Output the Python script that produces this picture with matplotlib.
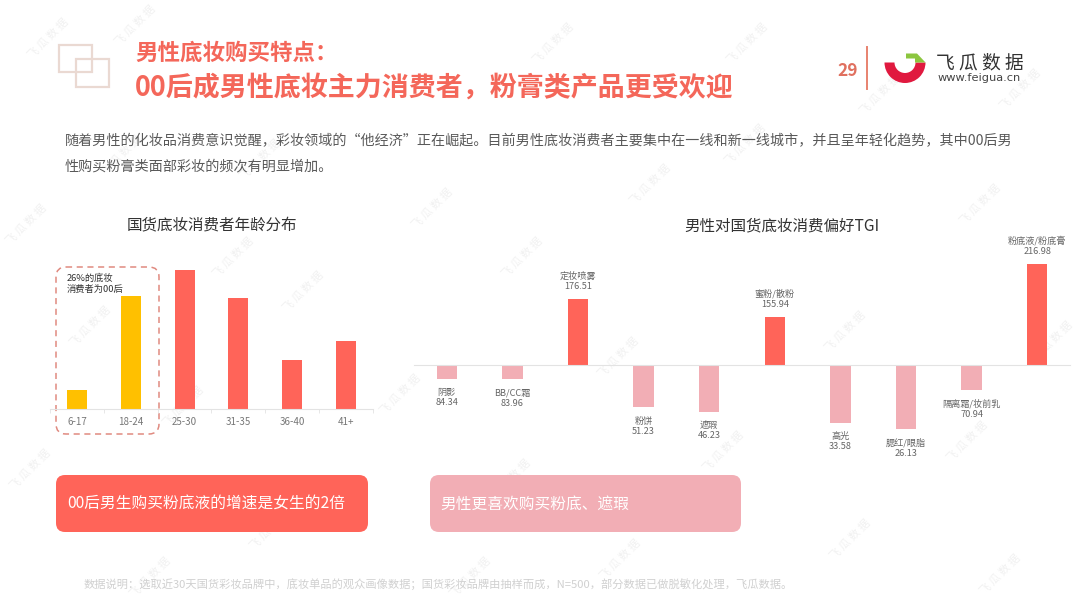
import matplotlib
matplotlib.use("Agg")
import matplotlib.pyplot as plt
from matplotlib.patches import FancyBboxPatch, Rectangle, Wedge, Polygon

plt.rcParams['font.family'] = ['Noto Sans CJK SC', 'DejaVu Sans']

# Data
age_labels = ["6-17", "18-24", "25-30", "31-35", "36-40", "41+"]
age_values = [3.8, 22.6, 27.9, 22.2, 9.8, 13.6]

tgi_labels = ["阴影", "BB/CC霜", "定妆喷雾", "粉饼", "遮瑕", "蜜粉/散粉", "高光", "腮红/眼脂", "隔离霜/妆前乳", "粉底液/粉底膏"]
tgi_values = [84.34, 83.96, 176.51, 51.23, 46.23, 155.94, 33.58, 26.13, 70.94, 216.98]

title_1 = "男性底妆购买特点："
title_2 = "00后成男性底妆主力消费者，粉膏类产品更受欢迎"
body_1 = "随着男性的化妆品消费意识觉醒，彩妆领域的“他经济”正在崛起。目前男性底妆消费者主要集中在一线和新一线城市，并且呈年轻化趋势，其中00后男"
body_2 = "性购买粉膏类面部彩妆的频次有明显增加。"
note = "数据说明：选取近30天国货彩妆品牌中，底妆单品的观众画像数据；国货彩妆品牌由抽样而成，N=500，部分数据已做脱敏化处理，飞瓜数据。"

RED = "#ff6459"
PINK = "#f2aeb5"
YELLOW = "#ffc000"
TITLE_RED = "#f4675a"

W, H = 1080, 607
fig = plt.figure(figsize=(W / 100, H / 100), dpi=100, facecolor="white")


def px_axes(x0, y_top, x1, y_bottom):
    # axes from picture pixels (y down)
    return fig.add_axes([x0 / W, 1 - y_bottom / H, (x1 - x0) / W, (y_bottom - y_top) / H])


# background layer in pixel coordinates
bg = fig.add_axes([0, 0, 1, 1])
bg.set_xlim(0, W)
bg.set_ylim(H, 0)
bg.axis("off")

# watermark
marks = [(48, 39), (135, 26), (260, 160), (121, 156), (233, 258), (26, 225), (90, 327), (303, 292),
         (183, 407), (30, 470), (432, 209), (553, 44), (650, 185), (747, 44), (880, 95), (522, 258),
         (618, 358), (845, 332), (1052, 342), (967, 442), (723, 452), (980, 205), (400, 395), (510, 480),
         (270, 530), (150, 578), (1020, 90), (620, 560), (850, 540), (470, 578), (1000, 575), (745, 145)]
for mx, my in marks:
    bg.text(mx, my, "飞 瓜 数 据", fontsize=8, color="#f1f1f1", rotation=45, ha="center", va="center", zorder=0)

# icon top left
bg.add_patch(Rectangle((59, 45), 33, 27, fill=False, ec="#ead9d2", lw=1.6))
bg.add_patch(Rectangle((76, 59), 33, 28, fill=False, ec="#ead9d2", lw=1.6))

# titles
bg.text(135, 53, title_1, fontsize=16.2, fontweight="bold", color=TITLE_RED, va="center")
bg.text(135, 88, title_2, fontsize=19.45, fontweight="bold", color=TITLE_RED, va="center")
bg.text(65, 141, body_1, fontsize=10.13, color="#595959", va="center")
bg.text(65, 166, body_2, fontsize=10.13, color="#595959", va="center")

# page number and logo
bg.text(848, 71, "29", fontsize=12.5, fontweight="bold", color="#e0705f", ha="center", va="center")
bg.plot([867, 867], [47, 89], color="#e8826f", lw=1.4)
bg.add_patch(Wedge((905, 62.5), 20.5, 0, 180, width=10, fc="#e0193f", ec="none"))
bg.add_patch(Polygon([(906, 53.5), (917, 53.5), (925.5, 62.5), (915, 62.5), (915, 58.5), (906, 58.5)],
                     fc="#8cc63f", ec="none"))
bg.text(979.5, 63, "飞 瓜 数 据", fontsize=13.5, color="#333333", ha="center", va="center")
bg.text(979, 78, "www.feigua.cn", fontsize=8.2, family="DejaVu Sans", color="#444444", ha="center", va="center")

# chart titles
bg.text(211.5, 226, "国货底妆消费者年龄分布", fontsize=11.2, color="#333333", ha="center", va="center")
bg.text(782, 226, "男性对国货底妆消费偏好TGI", fontsize=11.2, color="#333333", ha="center", va="center")

# age distribution
ax1 = px_axes(50, 250, 373, 409)
ax1.patch.set_alpha(0)
x1 = range(len(age_values))
colors1 = [YELLOW, YELLOW, RED, RED, RED, RED]
ax1.bar(x1, age_values, width=0.37, color=colors1)
ax1.set_xlim(-0.5, 5.5)
ax1.set_ylim(0, 31.9)
ax1.set_yticks([])
for s in ["top", "left", "right"]:
    ax1.spines[s].set_visible(False)
ax1.spines["bottom"].set_color("#e3e3e3")
ax1.set_xticks(list(x1))
ax1.set_xticklabels(age_labels, fontsize=7, color="#777777")
ax1.tick_params(axis="x", which="major", length=0, pad=6)
ax1.set_xticks([i - 0.5 for i in range(7)], minor=True)
ax1.tick_params(axis="x", which="minor", length=3, color="#e3e3e3")

# dashed box around the post-00 bars
bg.add_patch(FancyBboxPatch((64, 275), 87, 151, boxstyle="round,pad=8,rounding_size=10", fill=False,
                            ec="#e08a80", lw=1.1, ls=(0, (4, 3)), zorder=5))
bg.text(67, 284, "26%的底妆\n消费者为00后", fontsize=6.7, color="#333333", va="center", linespacing=1.3, zorder=6)

# TGI
ax2 = px_axes(414, 230, 1070, 460)
ax2.patch.set_alpha(0)
x2 = list(range(len(tgi_values)))
colors2 = [RED if v > 100 else PINK for v in tgi_values]
ax2.bar(x2, [v - 100 for v in tgi_values], bottom=100, width=0.31, color=colors2)
ax2.set_xlim(-0.5, 9.5)
ax2.set_ylim(-9.5, 256.4)
ax2.set_xticks([])
ax2.set_yticks([])
for s in ["top", "left", "right"]:
    ax2.spines[s].set_visible(False)
ax2.spines["bottom"].set_position(("data", 100))
ax2.spines["bottom"].set_color("#e3e3e3")
for i, v in enumerate(tgi_values):
    up = v > 100
    ax2.annotate(f"{tgi_labels[i]}\n{v:.2f}", (i, v), xytext=(0, 5.5 if up else -6.5), textcoords="offset points",
                 ha="center", va="bottom" if up else "top", fontsize=6.6, color="#666666", linespacing=1.22)

# callout boxes
bg.add_patch(FancyBboxPatch((64, 483), 296, 41, boxstyle="round,pad=8,rounding_size=9", fc=RED, ec="none"))
bg.add_patch(FancyBboxPatch((438, 483), 295, 41, boxstyle="round,pad=8,rounding_size=9", fc=PINK, ec="none"))
bg.text(67, 504, "00后男生购买粉底液的增速是女生的2倍", fontsize=11.3, color="white", va="center")
bg.text(440, 504, "男性更喜欢购买粉底、遮瑕", fontsize=11.3, color="white", va="center")

bg.text(84, 584, note, fontsize=8.1, color="#d0d0d0", va="center")

fig.savefig("out.png", dpi=100)
